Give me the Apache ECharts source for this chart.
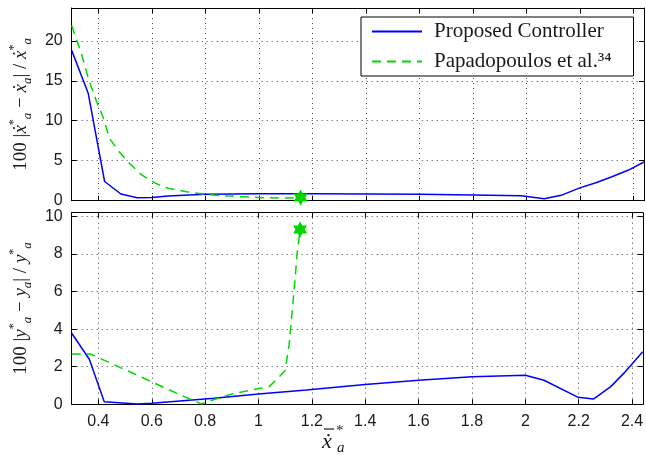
<!DOCTYPE html>
<html><head><meta charset="utf-8">
<script src="https://cdn.jsdelivr.net/npm/echarts@6/dist/echarts.min.js"></script>
<style>html,body{margin:0;padding:0;background:#fff}#c{width:646px;height:456px}</style>
</head><body><div id="c"></div>
<script>
// ---- data ----
const seriesNames = ['Proposed Controller', 'Papadopoulos et al.\u00B3\u2074'];
const xTicks = [0.4, 0.6, 0.8, 1.0, 1.2, 1.4, 1.6, 1.8, 2.0, 2.2, 2.4];
const yTicksTop = [0, 5, 10, 15, 20];
const yTicksBottom = [0, 2, 4, 6, 8, 10];

// top panel: 100 |xdot* - xdot| / xdot*
const proposedTop = [[0.3,18.8],[0.362,13.4],[0.423,2.4],[0.484,0.84],[0.545,0.38],[0.6,0.4],[0.66,0.6],[0.8,0.8],[1.0,0.86],[1.2,0.88],[1.4,0.85],[1.6,0.8],[1.8,0.72],[1.98,0.62],[2.067,0.25],[2.13,0.67],[2.2,1.6],[2.26,2.25],[2.32,3.0],[2.38,3.8],[2.44,4.84]];
const papaTop = [[0.3,21.9],[0.338,18.2],[0.362,15.3],[0.393,12.4],[0.417,10.5],[0.441,7.8],[0.478,6.1],[0.515,4.7],[0.563,3.2],[0.612,2.2],[0.661,1.55],[0.734,1.1],[0.8,0.8],[0.857,0.63],[0.935,0.5],[1.008,0.38],[1.085,0.33],[1.156,0.4]];

// bottom panel: 100 |y* - y| / y*
const proposedBottom = [[0.3,3.78],[0.366,2.4],[0.422,0.14],[0.546,0.02],[0.6,0.05],[0.833,0.32],[1.0,0.55],[1.18,0.76],[1.4,1.06],[1.6,1.28],[1.8,1.47],[2.0,1.55],[2.07,1.28],[2.198,0.37],[2.255,0.28],[2.32,0.94],[2.375,1.74],[2.44,2.8]];
const papaBottom = [[0.3,2.68],[0.37,2.68],[0.45,2.16],[0.55,1.52],[0.65,0.87],[0.72,0.42],[0.785,0.02],[0.887,0.5],[0.96,0.72],[1.04,0.94],[1.07,1.35],[1.1,1.8],[1.115,3.2],[1.131,5.7],[1.146,8.2],[1.156,9.3]];

// ---- styles ----
const BLUE = '#0000ff', GREEN = '#00d800', TXT = '#1a1a1a';
const STAR = 'path://M0,-10 L2.89,-5 L8.66,-5 L5.77,0 L8.66,5 L2.89,5 L0,10 L-2.89,5 L-8.66,5 L-5.77,0 L-8.66,-5 L-2.89,-5 Z';
const fmt = v => String(Math.round(v * 10) / 10);
const axLine = {show: true, onZero: false, lineStyle: {color: '#000', width: 1}};
const grid = [
  {left: 60, top: 8, width: 584, height: 192.7, containLabel: false},
  {left: 60, top: 212.7, width: 584, height: 191.6, containLabel: false}
];
function xAx(gi, pos, labels, split) {
  return {type: 'value', gridIndex: gi, position: pos, min: 0.3, max: 2.44,
    axisLine: axLine,
    axisTick: {show: true, inside: true, length: 5, customValues: xTicks, lineStyle: {color: '#000'}},
    axisLabel: {show: labels, customValues: xTicks, formatter: fmt, margin: 9, color: TXT, fontSize: 16, fontFamily: 'Liberation Sans'},
    splitLine: {show: split, lineStyle: {color: '#444', width: 1, type: [1, 4]}}};
}
function yAx(gi, pos, max, ticks, labels, name) {
  return {type: 'value', gridIndex: gi, position: pos, min: 0, max: max,
    axisLine: axLine,
    axisTick: {show: true, inside: true, length: 5, customValues: ticks, lineStyle: {color: '#000'}},
    axisLabel: {show: labels, customValues: ticks, margin: 9, color: TXT, fontSize: 16, fontFamily: 'Liberation Sans'},
    splitLine: {show: labels, lineStyle: {color: '#444', width: 1, type: [1, 4]}},
    name: name || '', nameLocation: 'middle', nameGap: 36, nameRotate: 90,
    nameTextStyle: {color: TXT, fontFamily: 'Liberation Serif', fontSize: 19, lineHeight: 26,
      rich: {
        n: {fontFamily: 'Liberation Serif', fontSize: 19, color: TXT},
        v: {fontFamily: 'Liberation Serif', fontStyle: 'italic', fontSize: 19, color: TXT},
        sup: {fontFamily: 'Liberation Serif', fontSize: 12, color: TXT, verticalAlign: 'top'},
        sub: {fontFamily: 'Liberation Serif', fontStyle: 'italic', fontSize: 13, color: TXT, verticalAlign: 'bottom'}
      }}};
}
const nameTop = '{n|100 |}{v|\u1E8B}{sup|*}{sub|a}{n| \u2212 }{v|\u1E8B}{sub|a}{n|| / }{v|\u1E8B}{sup|*}{sub|a}';
const nameBottom = '{n|100 |}{v|y}{sup|*}{sub|a}{n| \u2212 }{v|y}{sub|a}{n|| / }{v|y}{sup|*}{sub|a}';

function withStar(arr) {
  return arr.map((p, i) => i === arr.length - 1
    ? {value: p, symbol: STAR, symbolSize: [14, 16], itemStyle: {color: GREEN}}
    : {value: p});
}
function lineSeries(name, data, xi, yi, dashed) {
  return {type: 'line', name: name, xAxisIndex: xi, yAxisIndex: yi, data: data,
    symbol: 'none', showSymbol: true, animation: false, silent: true,
    lineStyle: {color: dashed ? GREEN : BLUE, width: 1.5, type: dashed ? [9, 6] : 'solid'},
    itemStyle: {color: dashed ? GREEN : BLUE}};
}

const chart = echarts.init(document.getElementById('c'), null, {renderer: 'canvas'});
chart.setOption({
  backgroundColor: '#fff',
  animation: false,
  grid: grid,
  xAxis: [xAx(0, 'bottom', false, true), xAx(0, 'top', false, false), xAx(1, 'bottom', true, true), xAx(1, 'top', false, false)],
  yAxis: [yAx(0, 'left', 24.1, yTicksTop, true, nameTop), yAx(0, 'right', 24.1, yTicksTop, false),
          yAx(1, 'left', 10.2, yTicksBottom, true, nameBottom), yAx(1, 'right', 10.2, yTicksBottom, false)],
  legend: {show: true, orient: 'vertical', left: 361, top: 17, data: seriesNames,
    backgroundColor: '#fff', borderColor: '#000', borderWidth: 1, padding: [4, 22, 4, 10],
    itemWidth: 50, itemHeight: 14, itemGap: 9,
    itemStyle: {opacity: 0, borderWidth: 0},
    textStyle: {fontFamily: 'Liberation Serif', fontSize: 21, color: TXT, padding: [0, 0, 0, 7]}},
  series: [
    lineSeries(seriesNames[0], proposedTop, 0, 0, false),
    lineSeries(seriesNames[1], withStar(papaTop), 0, 0, true),
    lineSeries(seriesNames[0], proposedBottom, 2, 2, false),
    lineSeries(seriesNames[1], withStar(papaBottom), 2, 2, true)
  ],
  graphic: [
    {type: 'text', left: 322, top: 431, silent: true,
      style: {text: '\u1E8B', font: 'italic 22px "Liberation Serif"', fill: TXT}},
    {type: 'line', silent: true, shape: {x1: 324, y1: 429, x2: 334, y2: 429},
      style: {stroke: TXT, lineWidth: 1.2}},
    {type: 'text', left: 336, top: 424, silent: true,
      style: {text: '*', font: '15px "Liberation Serif"', fill: TXT}},
    {type: 'text', left: 337, top: 441, silent: true,
      style: {text: 'a', font: 'italic 15px "Liberation Serif"', fill: TXT}}
  ]
});
</script></body></html>
